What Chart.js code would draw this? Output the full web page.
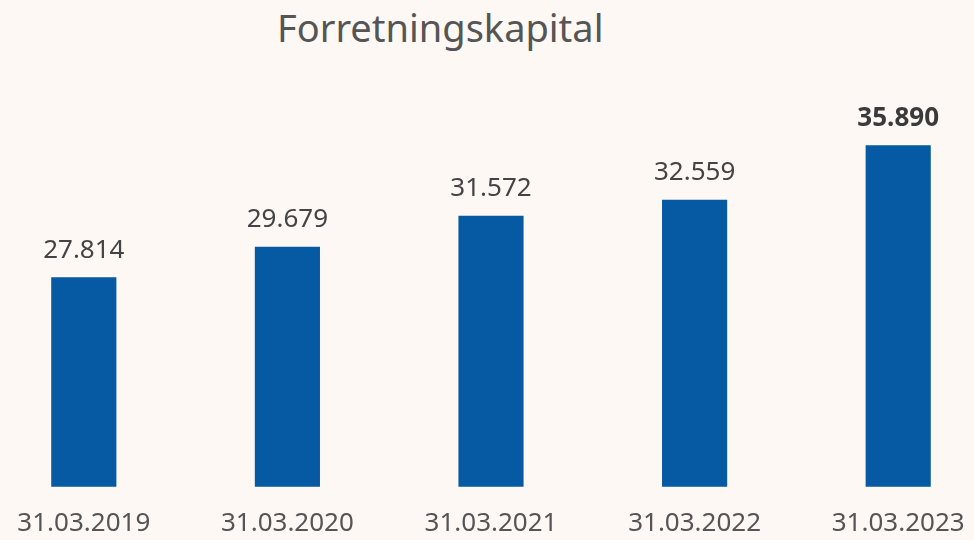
<!DOCTYPE html>
<html>
<head>
<meta charset="utf-8">
<script src="https://cdn.jsdelivr.net/npm/chart.js@4"></script>
<style>
  html, body { margin: 0; padding: 0; background: #fdf8f4; overflow: hidden; }
  body { width: 974px; height: 540px; position: relative; }
  #title {
    position: absolute; top: 1px; left: 277px;
    font-family: "Noto Sans", sans-serif; font-size: 38px; color: #555;
  }
  #chartContainer { position: absolute; left: -18px; top: 0; width: 1018px; height: 552px; }
</style>
</head>
<body>
<div id="title">Forretningskapital</div>
<div id="chartContainer"><canvas id="myChart"></canvas></div>
<script>
const categories = ['31.03.2019', '31.03.2020', '31.03.2021', '31.03.2022', '31.03.2023'];
const values = [27.814, 29.679, 31.572, 32.559, 35.890];
const valueLabels = ['27.814', '29.679', '31.572', '32.559', '35.890'];

const barLabels = {
    id: 'barLabels',
    afterDatasetsDraw(chart) {
        const ctx = chart.ctx;
        const meta = chart.getDatasetMeta(0);
        ctx.save();
        ctx.textAlign = 'center';
        ctx.textBaseline = 'bottom';
        meta.data.forEach((bar, i) => {
            const last = i === values.length - 1;
            ctx.font = (last ? 'bold ' : '') + '26px "Noto Sans", sans-serif';
            ctx.fillStyle = last ? '#3a3a3a' : '#444';
            ctx.fillText(valueLabels[i], bar.x, bar.y - 14);
        });
        ctx.restore();
    }
};

const ctx = document.getElementById('myChart').getContext('2d');
const myChart = new Chart(ctx, {
    type: 'bar',
    data: {
        labels: categories,
        datasets: [{
            data: values,
            backgroundColor: '#0659a3',
            categoryPercentage: 1,
            barPercentage: 0.32
        }]
    },
    options: {
        maintainAspectRatio: false,
        responsive: true,
        animation: false,
        layout: { padding: { top: 78, bottom: 0, left: 0, right: 0 } },
        plugins: {
            legend: { display: false },
            tooltip: { enabled: false }
        },
        scales: {
            x: {
                grid: { display: false },
                border: { display: false },
                ticks: {
                    color: '#555',
                    padding: 13,
                    maxRotation: 0,
                    autoSkip: false,
                    font: { family: 'Noto Sans', size: 26 }
                }
            },
            y: {
                display: false,
                min: 15,
                max: 40
            }
        }
    },
    plugins: [barLabels]
});
</script>
</body>
</html>
